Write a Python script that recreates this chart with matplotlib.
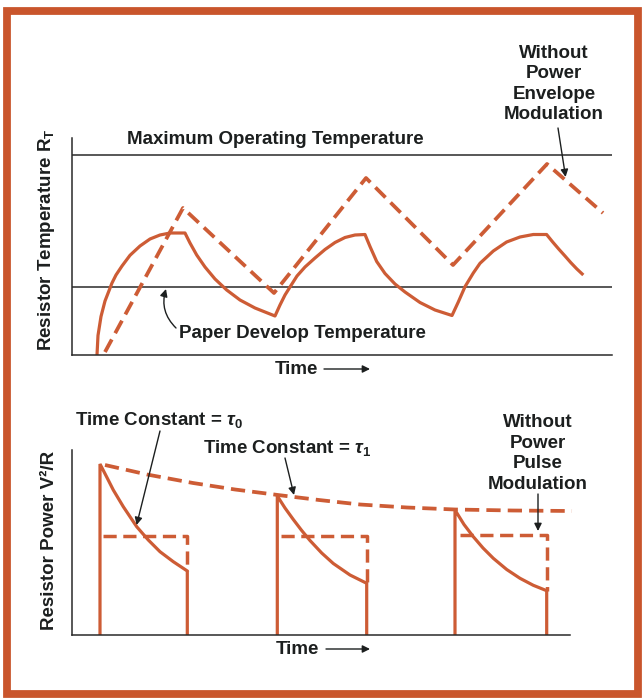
import matplotlib
matplotlib.use("Agg")
import matplotlib.pyplot as plt
from matplotlib.patches import Rectangle
from matplotlib.text import Annotation

plt.rcParams['font.family'] = ['Liberation Sans', 'DejaVu Sans']
plt.rcParams['mathtext.fontset'] = 'custom'
plt.rcParams['mathtext.rm'] = 'Liberation Sans:bold'
plt.rcParams['mathtext.it'] = 'Liberation Sans:italic:bold'

W, H = 642, 698
ORANGE = '#CD5C35'
FRAME = '#C9552C'
INK = '#1c1f1f'
AXC = '#2a2a2a'

# ---------------- data: top panel (time, resistor temperature) -------------
max_temp = 20.0
paper_temp = 6.8
top_xlim = (0, 54)
top_ylim = (0, 21.7)

solid_t = [2.5, 2.6, 2.9, 3.3, 4.0, 4.4, 5.0, 5.8, 6.8, 7.8, 8.8, 9.8, 11.3,
           11.8, 12.47, 13.3, 14.3, 15.47, 16.8, 18.3, 20.3,
           20.8, 21.3, 21.8, 22.5, 23.3, 24.3, 25.3, 26.3, 27.3, 28.3, 29.3,
           29.8, 30.47, 31.3, 32.3, 33.3, 34.8, 36.3, 38.0,
           38.63, 39.3, 40.13, 40.8, 42.13, 43.46, 44.8, 46.13, 47.46,
           48.07, 48.67, 49.3, 49.87, 50.47, 51.13]
solid_T = [0.0, 1.95, 3.85, 5.4, 7.2, 8.0, 8.9, 9.97, 10.9, 11.6, 12.0, 12.2, 12.2,
           11.2, 10.0, 8.8, 7.6, 6.5, 5.5, 4.7, 3.9,
           5.0, 6.0, 6.8, 7.9, 8.8, 9.7, 10.55, 11.25, 11.75, 12.0, 12.05,
           10.85, 9.35, 8.15, 7.1, 6.3, 5.25, 4.5, 3.95,
           5.3, 6.83, 8.2, 9.17, 10.4, 11.3, 11.8, 12.05, 12.05,
           11.3, 10.6, 9.9, 9.25, 8.62, 8.0]

dashed_t = [3.3, 11.1, 20.2, 29.4, 38.1, 47.5, 53.1]
dashed_T = [0.3, 14.7, 6.2, 17.7, 9.0, 19.1, 14.2]

# ---------------- data: bottom panel (time, resistor power) ----------------
bot_xlim = (0, 49.8)
bot_ylim = (0, 18.5)

pulse_start = [2.8, 20.53, 38.3]
pulse_end = [11.53, 29.47, 47.47]
pulse_decay_t = [
    [2.8, 3.47, 4.13, 5.13, 6.47, 7.63, 8.8, 10.13, 11.53],
    [20.53, 21.3, 22.13, 22.97, 23.8, 24.97, 26.13, 27.8, 29.47],
    [38.3, 39.2, 40.13, 41.1, 42.13, 43.47, 44.8, 46.13, 47.47],
]
pulse_decay_P = [
    [17.1, 15.8, 14.5, 12.83, 10.83, 9.5, 8.33, 7.33, 6.4],
    [13.9, 12.7, 11.55, 10.45, 9.45, 8.2, 7.15, 6.0, 5.17],
    [12.5, 11.05, 9.83, 8.7, 7.67, 6.55, 5.67, 4.97, 4.43],
]
rect_start = [3.1, 20.9, 38.8]
rect_level = [9.9, 9.9, 10.0]

env_t = [3.3, 7.5, 12.1, 16.3, 20.6, 24.7, 28.8, 33.5, 38.3, 44.0, 50.0]
env_P = [17.0, 16.05, 15.2, 14.55, 14.0, 13.5, 13.05, 12.75, 12.55, 12.45, 12.4]

# ---------------------------------------------------------------------------
fig = plt.figure(figsize=(W / 100, H / 100), dpi=100)
fig.patch.set_facecolor('white')


def fx(x):
    return x / W


def fy(y):
    return 1 - y / H


# frame
fig.patches.append(Rectangle((fx(6.5), fy(694)), fx(637.5) - fx(6.5), fy(11) - fy(694),
                             transform=fig.transFigure, fill=False,
                             edgecolor=FRAME, linewidth=5.6, zorder=0))


def make_axes(left, right, top, bottom, xlim, ylim):
    ax = fig.add_axes([fx(left), fy(bottom), fx(right) - fx(left), fy(top) - fy(bottom)])
    ax.set_xlim(*xlim)
    ax.set_ylim(*ylim)
    ax.patch.set_alpha(0)
    for s in ['top', 'right']:
        ax.spines[s].set_visible(False)
    for s in ['left', 'bottom']:
        ax.spines[s].set_color(AXC)
        ax.spines[s].set_linewidth(1.1)
    ax.set_xticks([])
    ax.set_yticks([])
    return ax


# ---- top panel ----
ax1 = make_axes(72, 612, 138, 355, top_xlim, top_ylim)
ax1.axhline(max_temp, color=AXC, lw=1.1)
ax1.axhline(paper_temp, color=AXC, lw=1.1)
ax1.plot(solid_t, solid_T, color=ORANGE, lw=2.3, solid_joinstyle='round',
         solid_capstyle='butt')
ax1.plot(dashed_t, dashed_T, color=ORANGE, lw=2.7, dashes=(3.8, 1.9))

# ---- bottom panel ----
ax2 = make_axes(72, 570, 450, 635, bot_xlim, bot_ylim)
for s, e, tt, pp, rs, rl in zip(pulse_start, pulse_end, pulse_decay_t, pulse_decay_P,
                                 rect_start, rect_level):
    ax2.plot([s] + tt + [e], [0] + pp + [0], color=ORANGE, lw=2.3,
             solid_joinstyle='miter')
    ax2.plot([rs, e, e], [rl, rl, pp[-1]], color=ORANGE, lw=2.5, dashes=(3.8, 1.9))
ax2.plot(env_t, env_P, color=ORANGE, lw=2.7, dashes=(3.8, 1.9), clip_on=False)

# ---- texts ----
tk = dict(color=INK, fontweight='bold', fontsize=13.5)
fig.text(fx(275.5), fy(140), 'Maximum Operating Temperature', ha='center', va='center', **tk)
fig.text(fx(554), fy(84), 'Without\nPower\nEnvelope\nModulation', ha='center',
         va='center', linespacing=1.28, **tk)
fig.text(fx(302), fy(333), 'Paper Develop Temperature', ha='center', va='center', **tk)
fig.text(fx(47), fy(240), r'Resistor Temperature R$_\mathregular{T}$', ha='center',
         va='center', rotation=90, **tk)
fig.text(fx(296), fy(369), 'Time', ha='center', va='center', **tk)

fig.text(fx(159), fy(420), r'Time Constant = $\tau_\mathregular{0}$', ha='center', va='center', **tk)
fig.text(fx(287), fy(448), r'Time Constant = $\tau_\mathregular{1}$', ha='center', va='center', **tk)
fig.text(fx(538), fy(453.5), 'Without\nPower\nPulse\nModulation', ha='center',
         va='center', linespacing=1.28, **tk)
fig.text(fx(50), fy(540), 'Resistor Power V²/R', ha='center', va='center',
         rotation=90, **tk)
fig.text(fx(297), fy(649), 'Time', ha='center', va='center', **tk)

# ---- arrows ----
ap = dict(arrowstyle='-|>', color=INK, lw=1.0, mutation_scale=11,
          shrinkA=0, shrinkB=0)


def arrow(x0, y0, x1, y1, **kw):
    props = dict(ap)
    props.update(kw)
    fig.add_artist(Annotation(
        '', xy=(fx(x1), fy(y1)), xytext=(fx(x0), fy(y0)),
        xycoords='figure fraction', textcoords='figure fraction',
        arrowprops=props))


arrow(324, 369, 370, 369)
arrow(326, 649, 370, 649)
arrow(558, 128, 565.6, 177)
arrow(176, 328, 166, 289, connectionstyle='arc3,rad=-0.3')
arrow(160, 431, 136.6, 525)
arrow(285, 458, 294, 495)
arrow(538, 494, 538, 531)

fig.savefig('out.png', dpi=100, facecolor='white')
